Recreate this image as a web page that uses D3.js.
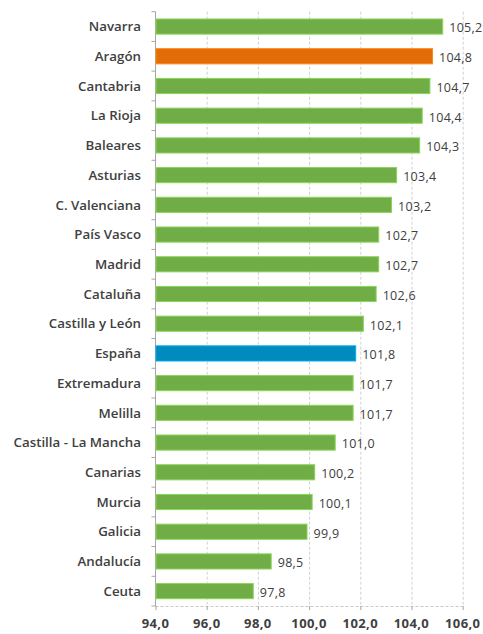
<!DOCTYPE html>
<html><head><meta charset="utf-8">
<script src="https://cdn.jsdelivr.net/npm/d3@7"></script>
<style>body{margin:0;background:#fff;} svg{display:block;}</style>
</head><body>
<script>
const categories = ["Navarra","Aragón","Cantabria","La Rioja","Baleares","Asturias","C. Valenciana","País Vasco","Madrid","Cataluña","Castilla y León","España","Extremadura","Melilla","Castilla - La Mancha","Canarias","Murcia","Galicia","Andalucía","Ceuta"];
const values = [105.2,104.8,104.7,104.4,104.3,103.4,103.2,102.7,102.7,102.6,102.1,101.8,101.7,101.7,101.0,100.2,100.1,99.9,98.5,97.8];
const tickValues = [94,96,98,100,102,104,106];
const highlight = {"Aragón":"#e36c09","España":"#008bbf"};

const W=483,H=634;
const m={left:155.5,right:20.5,top:11.7,bottom:28};
const svg=d3.select("body").append("svg").attr("width",W).attr("height",H);
const x=d3.scaleLinear().domain([94,106]).range([m.left,462.7]);
const y=d3.scaleBand().domain(categories).range([m.top,606]).paddingInner(0.49).paddingOuter(0.245);
const fmt=v=>v.toFixed(1).replace(".",",");

// gridlines
svg.append("g").selectAll("line").data(tickValues.slice(1)).join("line")
  .attr("x1",d=>x(d)+0.5).attr("x2",d=>x(d)+0.5).attr("y1",m.top).attr("y2",606)
  .attr("stroke","#d0d0d0").attr("stroke-dasharray","3,2").attr("stroke-width",1);
// bottom axis line
svg.append("line").attr("x1",m.left).attr("x2",462.7).attr("y1",606.5).attr("y2",606.5)
  .attr("stroke","#c8c8c8").attr("stroke-dasharray","3,2");
// y axis
const ya=svg.append("g").attr("transform",`translate(${m.left},0)`);
ya.append("line").attr("x1",0).attr("x2",0).attr("y1",m.top).attr("y2",606).attr("stroke","#a6a6a6");
const step=(606-m.top)/categories.length;
ya.selectAll("line.t").data(d3.range(categories.length+1)).join("line").attr("class","t")
  .attr("x1",-4).attr("x2",0).attr("y1",i=>m.top+i*step).attr("y2",i=>m.top+i*step).attr("stroke","#a6a6a6");
// x ticks small
svg.append("g").selectAll("line").data(tickValues).join("line")
  .attr("x1",d=>x(d)+0.5).attr("x2",d=>x(d)+0.5).attr("y1",606).attr("y2",610).attr("stroke","#a6a6a6");

// bars
svg.append("g").selectAll("rect").data(categories).join("rect")
  .attr("x",m.left+0.5).attr("y",d=>y(d)).attr("height",y.bandwidth())
  .attr("width",(d,i)=>x(values[i])-m.left)
  .attr("fill",d=>highlight[d]||"#70ad47")
  .attr("stroke",d=>d3.color(highlight[d]||"#70ad47").brighter(0.6)).attr("stroke-width",1);

// category labels
svg.append("g").selectAll("text").data(categories).join("text")
  .attr("x",141).attr("y",d=>y(d)+y.bandwidth()/2).attr("dy","0.35em")
  .attr("text-anchor","end").attr("font-family","Open Sans, sans-serif").attr("font-weight","600")
  .attr("font-size","13.3px").attr("fill","#404040").text(d=>d);

// value labels
svg.append("g").selectAll("text").data(categories).join("text")
  .attr("x",(d,i)=>x(values[i])+7).attr("y",d=>y(d)+y.bandwidth()/2+1.5).attr("dy","0.35em")
  .attr("font-family","Open Sans, sans-serif").attr("font-size","12.5px").attr("letter-spacing","0.3px").attr("fill","#404040")
  .text((d,i)=>fmt(values[i]));

// x tick labels
svg.append("g").selectAll("text").data(tickValues).join("text")
  .attr("x",d=>x(d)).attr("y",628).attr("text-anchor","middle")
  .attr("font-family","Open Sans, sans-serif").attr("font-weight","700").attr("font-size","13px").attr("letter-spacing","0.4px")
  .attr("fill","#404040").text(d=>fmt(d));
</script>
</body></html>
